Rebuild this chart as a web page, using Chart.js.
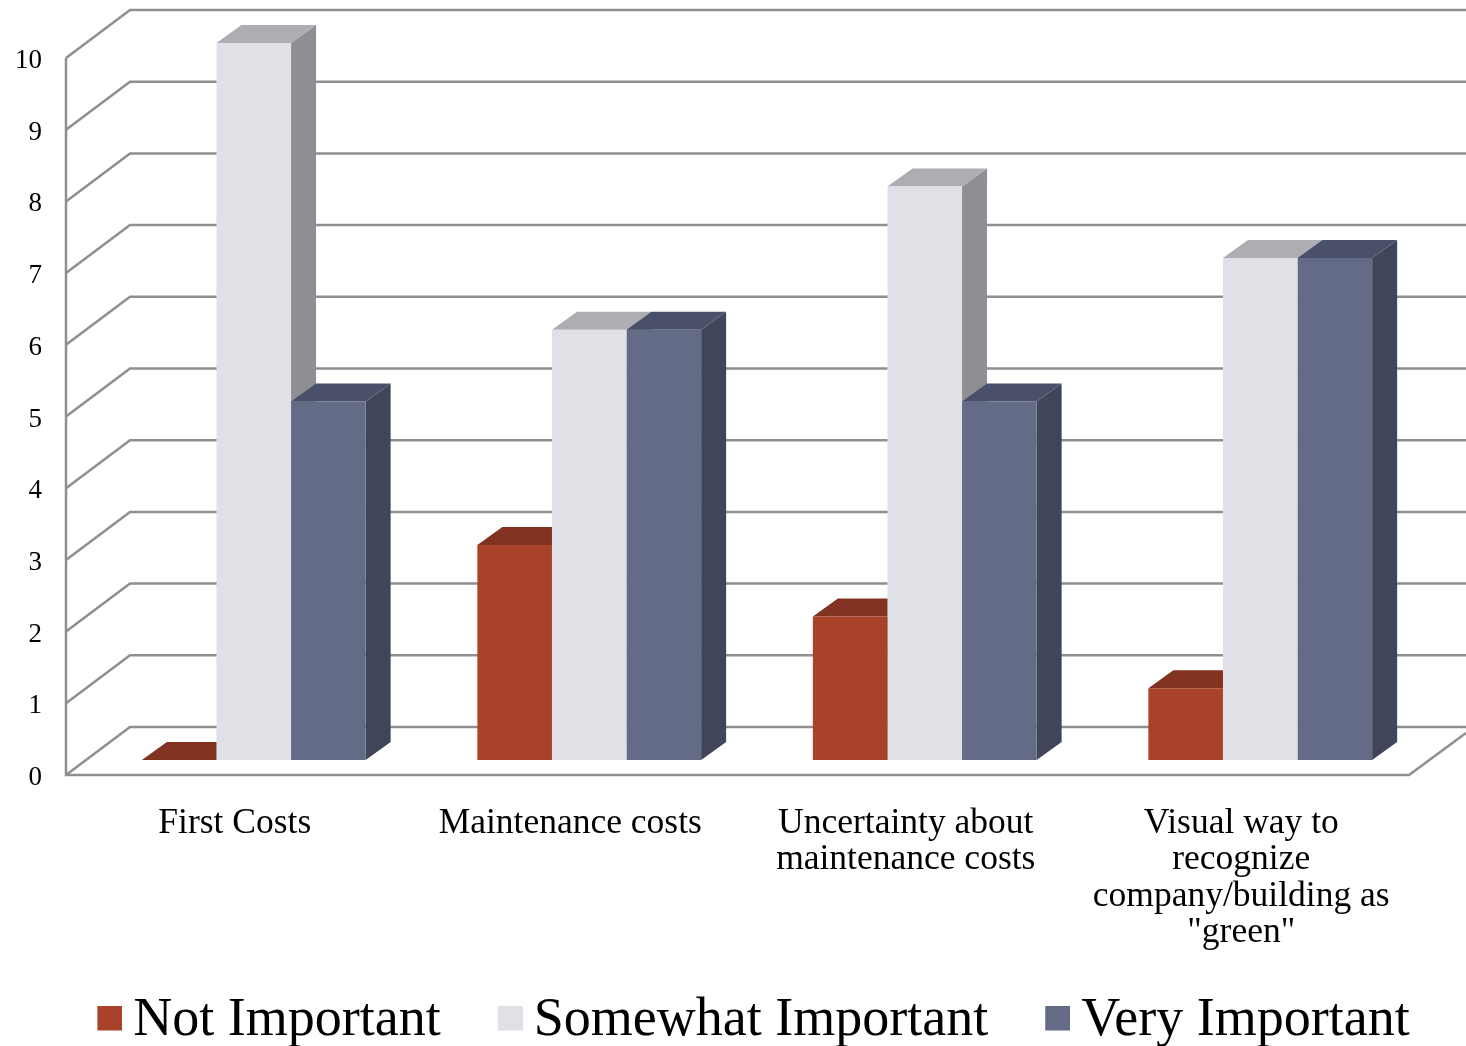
<!DOCTYPE html>
<html>
<head>
<meta charset="utf-8">
<title>Importance chart</title>
<script src="https://cdn.jsdelivr.net/npm/chart.js@4"></script>
<style>
  html, body { margin: 0; padding: 0; background: #fff; }
  canvas { display: block; }
</style>
</head>
<body>
<canvas id="importance" width="1466" height="1046"></canvas>
<script>
var categories = ["First Costs", "Maintenance costs", ["Uncertainty about", "maintenance costs"], ["Visual way to", "recognize", "company/building as", "\"green\""]];
var seriesNames = ["Not Important", "Somewhat Important", "Very Important"];
var notImportant = [0, 3, 2, 1];
var somewhatImportant = [10, 6, 8, 7];
var veryImportant = [5, 6, 5, 7];
var valueTicks = [0, 1, 2, 3, 4, 5, 6, 7, 8, 9, 10];

var frontColors = ["#A8432A", "#E0E1E7", "#636B86"];
var topColors = ["#823220", "#ADAEB3", "#4A5069"];
var sideColors = ["#7A2E1C", "#8E8F93", "#414559"];
var FONT = "'Liberation Serif', serif";

// square for the legend, transparent left and below so it sits closer to the text
function legendSwatch(color) {
    var c = document.createElement("canvas");
    c.width = 33;
    c.height = 31;
    var g = c.getContext("2d");
    g.fillStyle = color;
    g.fillRect(8, 0, 25, 25);
    return c;
}

function poly(ctx, pts, color) {
    ctx.fillStyle = color;
    ctx.beginPath();
    ctx.moveTo(pts[0][0], pts[0][1]);
    for (var i = 1; i < pts.length; i++) ctx.lineTo(pts[i][0], pts[i][1]);
    ctx.closePath();
    ctx.fill();
}

//=============================================== 3D WALLS AND BARS ========================================
var depth3d = {
    id: "depth3d",
    beforeDraw: function (chart) {
        // legend box is wider than the canvas so the third entry stays on the row
        chart.legend.top = 929;
        chart.legend.left = -45;
        chart.legend.right = 1560;
    },
    beforeDatasetsDraw: function (chart) {
        var ctx = chart.ctx;
        var y = chart.scales.y;
        var area = chart.chartArea;
        var frontX = area.left - 20, backX = area.left + 44;
        var frontDy = 15, backDy = -33;

        ctx.save();
        ctx.strokeStyle = "#8F8F8F";
        ctx.lineWidth = 2.5;
        valueTicks.forEach(function (v) {
            var py = y.getPixelForValue(v);
            ctx.beginPath();
            ctx.moveTo(frontX, py + frontDy);
            ctx.lineTo(backX, py + backDy);
            ctx.lineTo(chart.width, py + backDy);
            ctx.stroke();
        });
        // left wall and floor
        var y0 = y.getPixelForValue(0), y10 = y.getPixelForValue(10);
        ctx.beginPath();
        ctx.moveTo(frontX, y10 + frontDy);
        ctx.lineTo(frontX, y0 + frontDy);
        ctx.lineTo(area.right - 19, y0 + frontDy);
        ctx.lineTo(chart.width, y0 + frontDy - 42);
        ctx.stroke();

        // side and top of each bar, the fronts come from chart.js afterwards
        var dx = 25, dy = -18;
        chart.data.datasets.forEach(function (ds, d) {
            chart.getDatasetMeta(d).data.forEach(function (el) {
                var p = el.getProps(["x", "y", "base", "width"], true);
                var l = p.x - p.width / 2, r = p.x + p.width / 2;
                poly(ctx, [[r, p.y], [r + dx, p.y + dy], [r + dx, p.base + dy], [r, p.base]], sideColors[d]);
                poly(ctx, [[l, p.y], [l + dx, p.y + dy], [r + dx, p.y + dy], [r, p.y]], topColors[d]);
            });
        });
        ctx.restore();
    }
};

var chart = new Chart(document.getElementById("importance"), {
    type: "bar",
    data: {
        labels: categories,
        datasets: [
            { label: seriesNames[0], data: notImportant, backgroundColor: frontColors[0] },
            { label: seriesNames[1], data: somewhatImportant, backgroundColor: frontColors[1] },
            { label: seriesNames[2], data: veryImportant, backgroundColor: frontColors[2] }
        ]
    },
    options: {
        responsive: false,
        animation: false,
        layout: { padding: { top: 43, bottom: -33 } },
        datasets: { bar: { categoryPercentage: 0.667, barPercentage: 1 } },
        scales: {
            x: {
                grid: { display: false, drawTicks: false },
                border: { display: false },
                afterFit: function (scale) {
                    scale.height = 190;
                    scale.paddingRight = 38;
                },
                ticks: {
                    autoSkip: false,
                    maxRotation: 0,
                    minRotation: 0,
                    padding: 45,
                    labelOffset: -19,
                    color: "#000",
                    font: { family: FONT, size: 35.5, lineHeight: 1.03 }
                }
            },
            y: {
                min: 0,
                max: 10,
                grid: { display: false, drawTicks: false },
                border: { display: false },
                afterFit: function (scale) {
                    scale.width = 86;
                    scale.paddingTop = 0;
                    scale.paddingBottom = 0;
                },
                ticks: {
                    stepSize: 1,
                    padding: 44,
                    labelOffset: 18,
                    color: "#000",
                    font: { family: FONT, size: 27 }
                }
            }
        },
        plugins: {
            tooltip: { enabled: false },
            legend: {
                position: "bottom",
                labels: {
                    usePointStyle: true,
                    pointStyleWidth: 1,
                    padding: 65,
                    color: "#000",
                    font: { family: FONT, size: 54, lineHeight: 1 },
                    generateLabels: function (c) {
                        var items = Chart.defaults.plugins.legend.labels.generateLabels(c);
                        items.forEach(function (it, i) { it.pointStyle = legendSwatch(frontColors[i]); });
                        return items;
                    }
                }
            }
        }
    },
    plugins: [depth3d]
});
</script>
</body>
</html>
